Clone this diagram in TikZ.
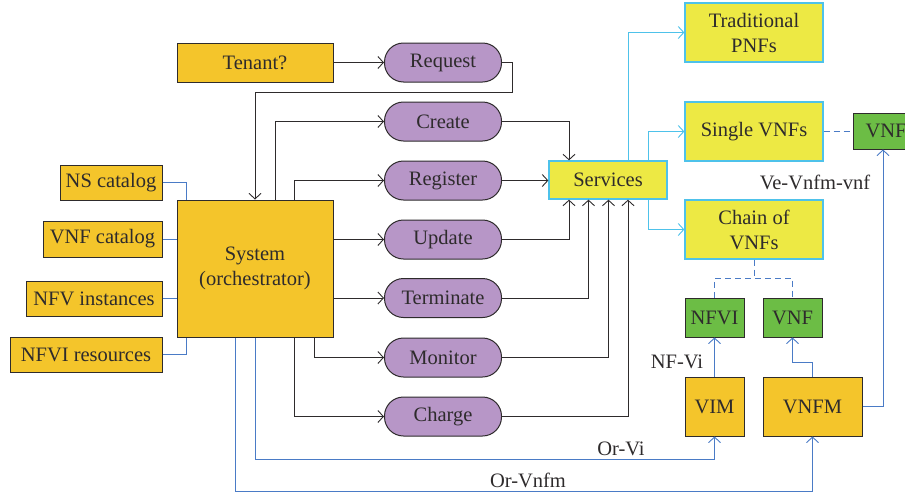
\documentclass[tikz,border=0pt]{standalone}
\usepackage{fontspec}
\setmainfont{Liberation Serif}
\usetikzlibrary{arrows.meta}
\definecolor{orng}{HTML}{F4C52B}
\definecolor{purp}{HTML}{B796C7}
\definecolor{yel}{HTML}{EDE944}
\definecolor{cyn}{HTML}{4EC2EA}
\definecolor{grn}{HTML}{6CBD45}
\definecolor{blu}{HTML}{4A7BC6}
\definecolor{ink}{HTML}{2E2B2C}
\tikzset{
  obox/.style={draw=ink, line width=1pt, fill=orng, inner sep=0pt, align=center},
  pill/.style={draw=ink, line width=1pt, fill=purp, rounded corners=19pt, minimum width=117pt, minimum height=39pt, inner sep=0pt},
  sbox/.style={draw=cyn, line width=1.3pt, fill=yel, inner sep=0pt, align=center},
  gbox/.style={draw=ink, line width=1pt, fill=grn, inner sep=0pt, minimum width=59pt, minimum height=39pt},
  tip/.style={-{Straight Barb[length=5.5pt,width=12pt,line width=0.9pt]}},
  conn/.style={draw=ink, line width=0.9pt},
  bconn/.style={draw=blu, line width=0.9pt},
  cconn/.style={draw=cyn, line width=0.9pt},
  dconn/.style={draw=blu, line width=1pt, dash pattern=on 6pt off 4pt},
  lbl/.style={text=ink, inner sep=0pt}
}
\begin{document}
\begin{tikzpicture}[x=1pt,y=-1pt, font=\fontsize{20.5}{25}\selectfont, text=ink]
\useasboundingbox (0,0) rectangle (905,493);
% left boxes
\node[obox, minimum width=156pt, minimum height=39pt] (tenant) at (255,62.5) {Tenant?};
\node[obox, minimum width=156pt, minimum height=137pt] (system) at (255,268.5) {System\\(orchestrator)};
\node[obox, minimum width=102pt, minimum height=35pt] (nscat) at (111,182.5) {NS catalog};
\node[obox, minimum width=119pt, minimum height=36pt] (vnfcat) at (102.5,239) {VNF catalog};
\node[obox, minimum width=136pt, minimum height=35pt] (nfvinst) at (94,298.5) {NFV instances};
\node[obox, minimum width=152pt, minimum height=35pt] (nfvires) at (86,354.5) {NFVI resources};
% pills
\node[pill] (request) at (443,62.5) {Request};
\node[pill] (create) at (443,121.5) {Create};
\node[pill] (register) at (443,180.5) {Register};
\node[pill] (update) at (443,239.5) {Update};
\node[pill] (terminate) at (443,298) {Terminate};
\node[pill] (monitor) at (443,357.5) {Monitor};
\node[pill] (charge) at (443,416.5) {Charge};
% services side
\node[sbox, minimum width=118pt, minimum height=38pt] (services) at (608,180) {Services};
\node[sbox, minimum width=138pt, minimum height=59pt] (pnf) at (754,32.5) {Traditional\\PNFs};
\node[sbox, minimum width=138pt, minimum height=59pt] (single) at (754,131.5) {Single VNFs};
\node[sbox, minimum width=138pt, minimum height=59pt] (chain) at (754,229.5) {Chain of\\VNFs};
\node[gbox, minimum width=66pt, minimum height=36pt] (vnfa) at (886,131) {VNF};
\node[gbox] (nfvi) at (714.5,317.5) {NFVI};
\node[gbox] (vnfb) at (792.5,317.5) {VNF};
\node[obox, minimum width=59pt, minimum height=59pt] (vim) at (714.5,406.5) {VIM};
\node[obox, minimum width=99pt, minimum height=59pt] (vnfm) at (812.5,406.5) {VNFM};
% labels
\node[lbl] (lnfvi) at (677,362) {NF-Vi};
\node[lbl] (lorvi) at (621,449) {Or-Vi};
\node[lbl] (lorvnfm) at (528,480) {Or-Vnfm};
\node[lbl] (lve) at (815,182) {Ve-Vnfm-vnf};
% black connectors
\draw[conn, tip] (tenant.east) -- (request.west);
\draw[conn, tip] (request.east) -| (512,92) -| (255,0 |- system.north);
\draw[conn, tip] (275,0 |- system.north) |- (create.west);
\draw[conn, tip] (294,0 |- system.north) |- (register.west);
\draw[conn, tip] (system.east |- update) -- (update.west);
\draw[conn, tip] (system.east |- terminate) -- (terminate.west);
\draw[conn, tip] (314,0 |- system.south) |- (monitor.west);
\draw[conn, tip] (294,0 |- system.south) |- (charge.west);
\draw[conn, tip] (create.east) -| (569,0 |- services.north);
\draw[conn, tip] (register.east) -- (services.west |- register);
\draw[conn, tip] (update.east) -| (569,0 |- services.south);
\draw[conn, tip] (terminate.east) -| (588.5,0 |- services.south);
\draw[conn, tip] (monitor.east) -| (608.5,0 |- services.south);
\draw[conn, tip] (charge.east) -| (628,0 |- services.south);
% cyan connectors
\draw[cconn, tip] (628,0 |- services.north) |- (pnf.west);
\draw[cconn, tip] (648,0 |- services.north) |- (single.west);
\draw[cconn, tip] (648,0 |- services.south) |- (chain.west);
% blue connectors on left
\draw[bconn] (nscat.east) -| (186,0 |- system.north);
\draw[bconn] (vnfcat.east) -- (system.west |- vnfcat);
\draw[bconn] (nfvinst.east) -- (system.west |- nfvinst);
\draw[bconn] (nfvires.east) -| (186,0 |- system.south);
% dashed
\draw[dconn] (single.east) -- (vnfa.west |- single);
\draw[dconn] (chain.south) -- (754,278);
\draw[dconn] (nfvi.north) |- (754,278) -| (vnfb.north);
% blue arrows bottom right
\draw[bconn, tip] (vim.north) -- (nfvi.south);
\draw[bconn, tip] (vnfm.north) -- (812.5,362) -| (vnfb.south);
\draw[bconn, tip] (vnfm.east) -| (883,0 |- vnfa.south);
\draw[bconn, tip] (255,0 |- system.south) |- (714.5,459) -- (vim.south);
\draw[bconn, tip] (235,0 |- system.south) |- (812.5,491) -- (vnfm.south);
\end{tikzpicture}
\end{document}
